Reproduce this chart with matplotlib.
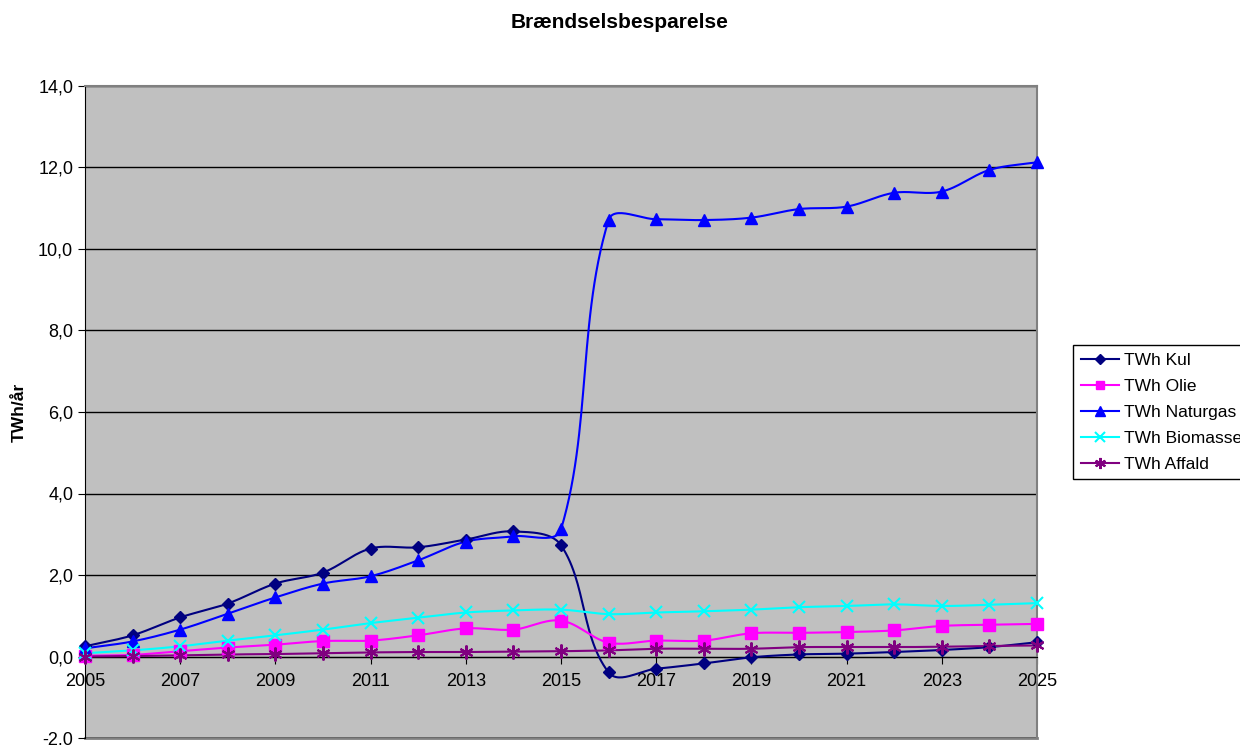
import matplotlib.pyplot as plt
import numpy as np
from matplotlib.ticker import FuncFormatter, MultipleLocator

plt.rcParams['font.family'] = ['Liberation Sans', 'DejaVu Sans']

years = list(range(2005, 2026))

kul = [0.25, 0.52, 0.96, 1.30, 1.79, 2.06, 2.65, 2.68, 2.87, 3.07, 2.73,
       -0.39, -0.30, -0.17, -0.02, 0.05, 0.07, 0.11, 0.16, 0.23, 0.35]
olie = [0.02, 0.04, 0.13, 0.22, 0.29, 0.38, 0.39, 0.52, 0.69, 0.66, 0.88,
        0.34, 0.39, 0.39, 0.57, 0.58, 0.60, 0.64, 0.75, 0.78, 0.80]
naturgas = [0.20, 0.37, 0.66, 1.05, 1.45, 1.79, 1.97, 2.36, 2.82, 2.95, 3.12,
            10.71, 10.73, 10.71, 10.77, 10.98, 11.04, 11.38, 11.41, 11.94, 12.13]
biomasse = [0.08, 0.15, 0.25, 0.39, 0.52, 0.66, 0.82, 0.95, 1.08, 1.13, 1.15,
            1.04, 1.08, 1.11, 1.15, 1.21, 1.24, 1.28, 1.24, 1.27, 1.31]
affald = [0.00, 0.01, 0.03, 0.05, 0.06, 0.08, 0.10, 0.11, 0.11, 0.12, 0.13,
          0.15, 0.19, 0.19, 0.19, 0.23, 0.23, 0.23, 0.24, 0.26, 0.27]

labels = ["TWh Kul", "TWh Olie", "TWh Naturgas", "TWh Biomasse", "TWh Affald"]

# skala i pixels pr. enhed, bruges til udglatningen
SX, SY = 47.6, 40.7


def smooth(x, y, n=30, k=1 / 3):
    # Bezier-kurve gennem punkterne; armlængder følger kordelængden,
    # så lange spring ikke skyder over
    p = np.column_stack([np.asarray(x, float) * SX, np.asarray(y, float) * SY])
    m = len(p)
    tang = np.zeros_like(p)
    for i in range(m):
        a = p[max(i - 1, 0)]
        b = p[min(i + 1, m - 1)]
        d = b - a
        tang[i] = d / np.hypot(*d)
    t = np.linspace(0, 1, n)[:, None]
    out = []
    for i in range(m - 1):
        p0, p3 = p[i], p[i + 1]
        L = np.hypot(*(p3 - p0))
        c1 = p0 + tang[i] * L * k
        c2 = p3 - tang[i + 1] * L * k
        b = (1 - t) ** 3 * p0 + 3 * (1 - t) ** 2 * t * c1 + 3 * (1 - t) * t ** 2 * c2 + t ** 3 * p3
        out.append(b)
    out = np.vstack(out)
    return out[:, 0] / SX, out[:, 1] / SY


fig = plt.figure(figsize=(12.4, 7.45), dpi=100)
ax = fig.add_axes([85 / 1240, 7 / 745, 952 / 1240, 652 / 745])
ax.set_facecolor('#c0c0c0')

styles = [
    dict(color='#000080', marker='D', ms=6),
    dict(color='#ff00ff', marker='s', ms=8),
    dict(color='#0000ff', marker='^', ms=9),
    dict(color='#00ffff', marker='x', ms=9, mew=1.5),
    dict(color='#800080', marker=(6, 2, 0), ms=10, mew=1.5),
]

handles = []
for series, lab, st in zip([kul, olie, naturgas, biomasse, affald], labels, styles):
    sx, sy = smooth(years, series)
    ax.plot(sx, sy, color=st['color'], lw=1.5, zorder=3, clip_on=False)
    ax.plot(years, series, ls='none', marker=st['marker'], ms=st['ms'],
            color=st['color'], mew=st.get('mew', 1), zorder=4, clip_on=False)
    h, = ax.plot([], [], color=st['color'], lw=1.5, marker=st['marker'],
                 ms=st['ms'] * 0.8, mew=st.get('mew', 1))
    handles.append(h)

ax.set_xlim(2005, 2025)
ax.set_ylim(-2, 14)
ax.yaxis.set_major_locator(MultipleLocator(2))
ax.yaxis.set_major_formatter(FuncFormatter(lambda v, p: f"{v:.1f}".replace('.', ',')))
ax.set_xticks(years[::2])
ax.grid(axis='y', color='black', lw=1, zorder=1)
ax.set_axisbelow(True)

ax.spines['bottom'].set_position(('data', 0))
ax.spines['bottom'].set_color('black')
ax.spines['left'].set_color('black')
for s in ['top', 'right']:
    ax.spines[s].set_color('#808080')
    ax.spines[s].set_linewidth(1.5)
ax.axhline(-2, color='#808080', lw=2, clip_on=False, zorder=0)

ax.tick_params(axis='both', labelsize=13, length=5, direction='out', color='black')
ax.tick_params(axis='x', pad=7)
ax.set_ylabel('TWh/år', fontsize=12.5, fontweight='bold', labelpad=8)

fig.suptitle('Brændselsbesparelse', fontsize=15, fontweight='bold', x=0.5, y=0.982)

leg = fig.legend(handles=handles, labels=labels, loc='upper left',
                 bbox_to_anchor=(1073 / 1240, 1 - 345 / 745), fontsize=12.5,
                 frameon=True, fancybox=False, edgecolor='black', framealpha=1,
                 handlelength=2.2, borderpad=0.45, labelspacing=0.62, handletextpad=0.3,
                 borderaxespad=0)
leg.get_frame().set_linewidth(1)

fig.savefig('out.png', dpi=100)
